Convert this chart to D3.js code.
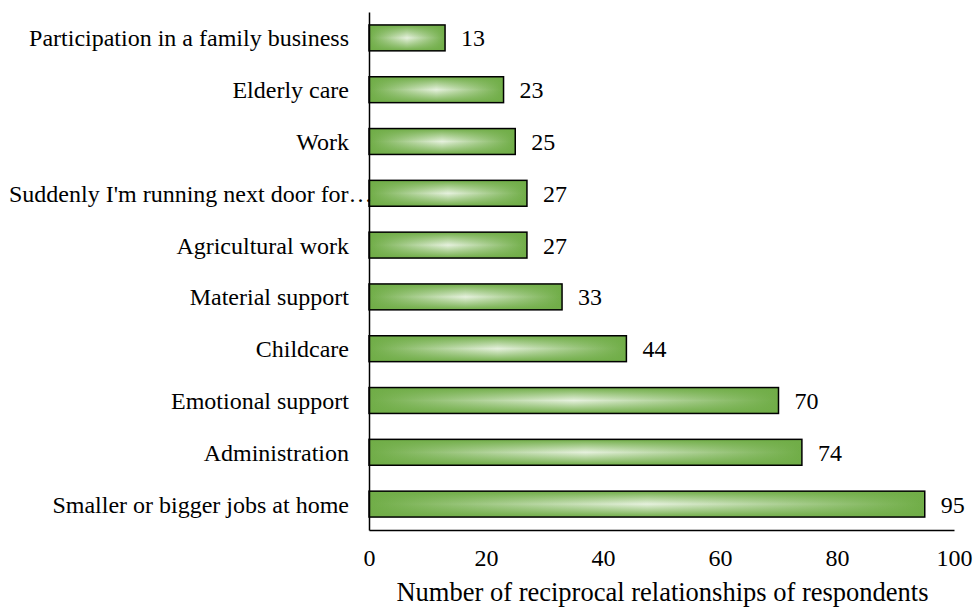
<!DOCTYPE html>
<html>
<head>
<meta charset="utf-8">
<script src="https://cdn.jsdelivr.net/npm/d3@7"></script>
<style>
  html, body { margin: 0; padding: 0; background: #fff; }
  svg { display: block; }
  text { font-family: "Liberation Serif", "Times New Roman", serif; fill: #000; }
</style>
</head>
<body>
<svg id="chart" width="973" height="610"></svg>
<script>
// Help activities, listed top to bottom
const categories = [
  "Participation in a family business",
  "Elderly care",
  "Work",
  "Suddenly I'm running next door for…",
  "Agricultural work",
  "Material support",
  "Childcare",
  "Emotional support",
  "Administration",
  "Smaller or bigger jobs at home"
];
const values = [13, 23, 25, 27, 27, 33, 44, 70, 74, 95];
const xTicks = [0, 20, 40, 60, 80, 100];
const xTitle = "Number of reciprocal relationships of respondents";

const svg = d3.select("#chart");
const margin = { left: 369, right: 19, top: 12, bottom: 80 };
const W = 973, H = 610;
const fs = 24;

const x = d3.scaleLinear().domain([0, 100]).range([margin.left, W - margin.right]);
const y = d3.scaleBand().domain(categories).range([margin.top, H - margin.bottom]).paddingInner(0.5).paddingOuter(0.25);

// Bar fill: light centre fading to green towards every edge
const defs = svg.append("defs");
const hg = defs.append("linearGradient").attr("id", "hgrad").attr("x1", 0).attr("x2", 1).attr("y1", 0).attr("y2", 0);
[[0, "#70ad47"], [0.5, "#e6f1de"], [1, "#70ad47"]].forEach(([o, c]) =>
  hg.append("stop").attr("offset", o).attr("stop-color", c));
const vg = defs.append("linearGradient").attr("id", "vgrad").attr("x1", 0).attr("x2", 0).attr("y1", 0).attr("y2", 1);
[[0, "#70ad47", 1], [0.5, "#70ad47", 0], [1, "#70ad47", 1]].forEach(([o, c, a]) =>
  vg.append("stop").attr("offset", o).attr("stop-color", c).attr("stop-opacity", a));

const bars = svg.append("g");
bars.selectAll("rect.base").data(values).join("rect")
  .attr("class", "base")
  .attr("x", x(0)).attr("y", (d, i) => y(categories[i]))
  .attr("width", d => x(d) - x(0)).attr("height", y.bandwidth())
  .attr("fill", "url(#hgrad)");
bars.selectAll("rect.shade").data(values).join("rect")
  .attr("class", "shade")
  .attr("x", x(0)).attr("y", (d, i) => y(categories[i]))
  .attr("width", d => x(d) - x(0)).attr("height", y.bandwidth())
  .attr("fill", "url(#vgrad)")
  .attr("stroke", "#000").attr("stroke-width", 1.5);

// Value labels
svg.append("g").selectAll("text").data(values).join("text")
  .attr("x", d => x(d) + 16)
  .attr("y", (d, i) => y(categories[i]) + y.bandwidth() / 2)
  .attr("dy", "0.35em")
  .attr("font-size", fs)
  .text(d => d);

// Category labels, right-aligned next to the axis
const catG = svg.append("g");
catG.selectAll("text").data(categories).join("text")
  .attr("x", x(0) - 20)
  .attr("y", d => y(d) + y.bandwidth() / 2)
  .attr("dy", "0.35em")
  .attr("font-size", fs)
  .attr("text-anchor", "end")
  .text(d => d)
  .each(function () {
    const w = this.getComputedTextLength();
    if (x(0) - 20 - w < 9) {
      d3.select(this).attr("text-anchor", "start").attr("x", 9);
    }
  });

// Axes
const xAxis = d3.axisBottom(x).tickValues(xTicks).tickSize(0).tickPadding(19);
const gx = svg.append("g").attr("transform", `translate(0,${H - margin.bottom})`).call(xAxis);
gx.select(".domain").attr("stroke", "#000").attr("stroke-width", 1.5);
gx.selectAll("text").attr("font-size", fs).attr("font-family", "Liberation Serif, serif").attr("fill", "#000");

const yAxis = d3.axisLeft(y).tickSize(0).tickFormat("");
const gy = svg.append("g").attr("transform", `translate(${x(0)},0)`).call(yAxis);
gy.select(".domain").attr("stroke", "#000").attr("stroke-width", 1.5);

svg.append("text")
  .attr("x", (x(0) + x(100)) / 2 + 1)
  .attr("y", 601)
  .attr("text-anchor", "middle")
  .attr("font-size", 26.5)
  .text(xTitle);
</script>
</body>
</html>
